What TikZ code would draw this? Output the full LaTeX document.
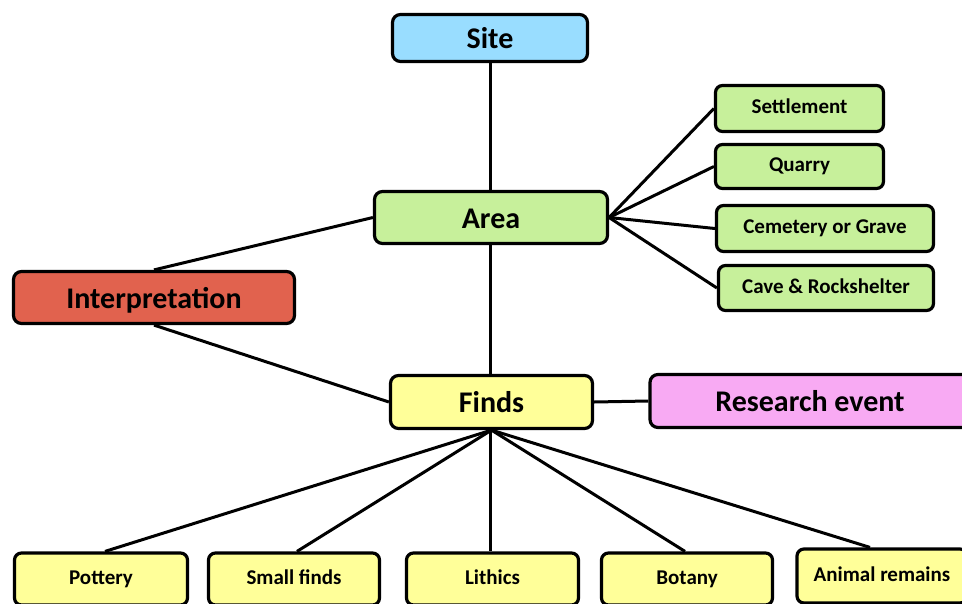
\documentclass[tikz,border=0pt]{standalone}
\usepackage{fontspec}
\setmainfont{Carlito}
\definecolor{siteblue}{RGB}{153,221,255}
\definecolor{areagreen}{RGB}{199,240,155}
\definecolor{interpred}{RGB}{225,98,78}
\definecolor{findsyellow}{RGB}{255,255,153}
\definecolor{respink}{RGB}{248,170,243}
\usetikzlibrary{positioning}

\begin{document}
\begin{tikzpicture}[x=1pt, y=-1pt,
  bigbox/.style={rectangle, rounded corners=8pt, draw=black, line width=3.2pt,
                 inner sep=0pt, text height=23pt, text depth=2pt,
                 font=\fontsize{30}{34}\selectfont\bfseries, align=center},
  smallbox/.style={rectangle, rounded corners=7pt, draw=black, line width=3.2pt,
                   inner sep=0pt, text height=14pt, text depth=4pt,
                   font=\fontsize{21}{24}\selectfont\bfseries, align=center},
  link/.style={line width=3pt}
]
\useasboundingbox (0,0) rectangle (962,603);

% Main boxes
\node[bigbox, fill=siteblue,    minimum width=195pt, minimum height=47pt] (site)   at (490,38)    {Site};
\node[bigbox, fill=areagreen,   minimum width=233pt, minimum height=52pt] (area)   at (491,217.5) {Area};
\node[bigbox, fill=interpred,   minimum width=281pt, minimum height=52pt] (interp) at (154,297.5) {Interpretation};
\node[bigbox, fill=findsyellow, minimum width=202pt, minimum height=53pt] (finds)  at (491.5,402) {Finds};
\node[bigbox, fill=respink,     minimum width=320pt, minimum height=53pt] (resev)  at (810,401)   {Research event};

% Site types
\node[smallbox, fill=areagreen, minimum width=168pt, minimum height=46pt] (settle) at (799.5,108.5) {Settlement};
\node[smallbox, fill=areagreen, minimum width=168pt, minimum height=44pt] (quarry) at (799.5,166.5) {Quarry};
\node[smallbox, fill=areagreen, minimum width=217pt, minimum height=46pt] (cemet)  at (825,228.5)   {Cemetery or Grave};
\node[smallbox, fill=areagreen, minimum width=215pt, minimum height=45pt] (cave)   at (826,288)     {Cave \& Rockshelter};

% Find types
\node[smallbox, fill=findsyellow, minimum width=173pt, minimum height=52pt] (pottery) at (101,579)   {Pottery};
\node[smallbox, fill=findsyellow, minimum width=171pt, minimum height=52pt] (small)   at (294,579)   {Small finds};
\node[smallbox, fill=findsyellow, minimum width=172pt, minimum height=52pt] (lithics) at (492.5,579) {Lithics};
\node[smallbox, fill=findsyellow, minimum width=171pt, minimum height=52pt] (botany)  at (687,579)   {Botany};
\node[smallbox, fill=findsyellow, minimum width=170pt, minimum height=54pt] (animal)  at (882,576)   {Animal remains};

% Links
\draw[link] (site.south) -- (site.south |- area.north);
\draw[link] (area.south -| site.south) -- (finds.north -| site.south);
\draw[link] (area.west) -- (interp.north);
\draw[link] (interp.south) -- (finds.west);
\draw[link] (finds.east) -- (resev.west);
\foreach \t in {settle,quarry,cemet,cave}
  \draw[link] (area.east) -- (\t.west);
\draw[link] (finds.south) -- ([xshift=4pt]pottery.north);
\draw[link] (finds.south) -- ([xshift=3pt]small.north);
\draw[link] (finds.south -| site.south) -- (lithics.north -| site.south);
\draw[link] (finds.south) -- ([xshift=-2pt]botany.north);
\draw[link] (finds.south) -- ([xshift=-12pt]animal.north);
\end{tikzpicture}
\end{document}
